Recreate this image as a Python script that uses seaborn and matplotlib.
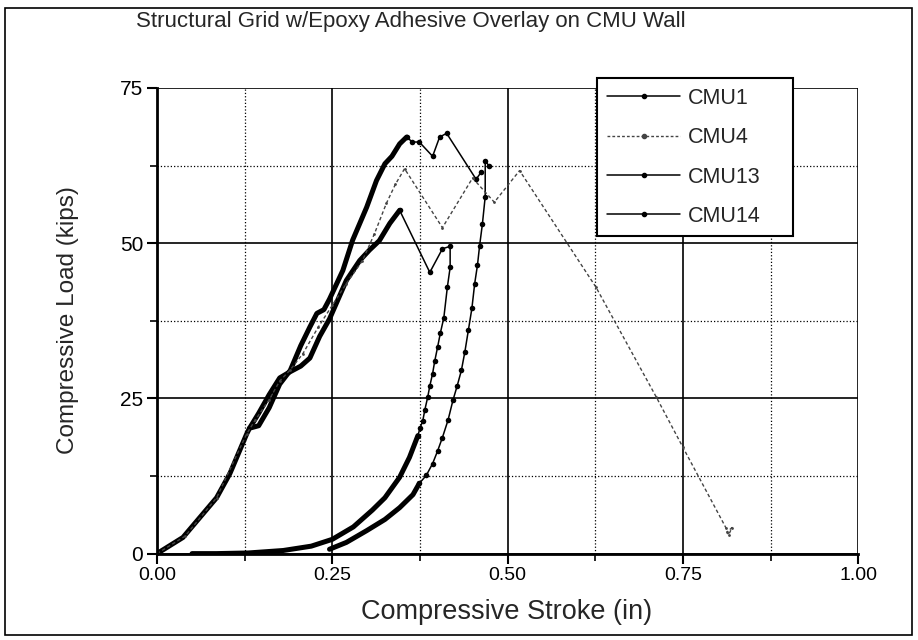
import matplotlib
matplotlib.use('Agg')
import matplotlib.pyplot as plt
import matplotlib.ticker as mticker
from matplotlib.lines import Line2D
from matplotlib.patches import Rectangle
import seaborn as sns
import pandas as pd

# CMU1 - loading branch (dense, drawn heavy) and post-peak branch
cmu1_load_x = [0.0, 0.037, 0.085, 0.104, 0.128, 0.132, 0.145, 0.160, 0.175, 0.190, 0.205, 0.218,
               0.228, 0.238, 0.246, 0.265, 0.279, 0.299, 0.313, 0.325, 0.335, 0.346, 0.356]
cmu1_load_y = [0.0, 2.6, 9.0, 12.9, 19.3, 20.2, 20.6, 23.5, 27.3, 29.5, 33.5, 36.5,
               38.7, 39.3, 41.0, 45.6, 50.5, 55.8, 60.1, 62.8, 64.0, 66.0, 67.1]
cmu1_post_x = [0.356, 0.364, 0.374, 0.393, 0.403, 0.413, 0.455, 0.462]
cmu1_post_y = [67.1, 66.3, 66.3, 64.0, 67.1, 67.7, 60.3, 61.4]

# CMU4 - dashed
cmu4_x = [0.0, 0.040, 0.085, 0.128, 0.140, 0.160, 0.175, 0.190, 0.208, 0.230, 0.250, 0.270,
          0.293, 0.310, 0.327, 0.340, 0.353, 0.407, 0.450, 0.481, 0.517, 0.626, 0.712,
          0.750, 0.811, 0.815, 0.820, 0.813]
cmu4_y = [0.0, 2.8, 9.0, 19.3, 21.5, 24.8, 27.8, 29.6, 32.2, 36.5, 40.0, 43.5,
          47.2, 51.5, 56.4, 59.5, 62.0, 52.5, 60.5, 56.6, 61.7, 42.9, 25.2,
          17.1, 4.2, 3.0, 4.2, 3.5]

# CMU13 - loading branch, post-peak, then return branch
cmu13_load_x = [0.132, 0.145, 0.160, 0.175, 0.190, 0.205, 0.218, 0.232, 0.246, 0.270, 0.289,
                0.303, 0.317, 0.332, 0.346]
cmu13_load_y = [20.2, 22.6, 25.6, 28.3, 29.3, 30.2, 31.5, 35.0, 37.8, 44.0, 47.2,
                48.9, 50.4, 53.2, 55.3]
cmu13_post_x = [0.346, 0.389, 0.407, 0.418, 0.418, 0.414, 0.409, 0.404, 0.400, 0.396, 0.393,
                0.389, 0.386, 0.382, 0.379, 0.375, 0.372]
cmu13_post_y = [55.3, 45.3, 49.1, 49.5, 46.1, 42.9, 38.0, 35.5, 33.2, 31.0, 29.0,
                27.0, 25.2, 23.2, 21.4, 20.2, 19.0]
cmu13_ret_x = [0.372, 0.360, 0.346, 0.325, 0.307, 0.280, 0.250, 0.220, 0.180, 0.130, 0.085, 0.050]
cmu13_ret_y = [19.0, 15.5, 12.3, 9.0, 7.0, 4.3, 2.3, 1.2, 0.5, 0.1, 0.0, 0.0]

# CMU14 - offset start
cmu14_base_x = [0.246, 0.270, 0.299, 0.325, 0.346, 0.365, 0.374]
cmu14_base_y = [0.7, 1.8, 3.7, 5.5, 7.4, 9.5, 11.3]
cmu14_up_x = [0.374, 0.384, 0.393, 0.400, 0.407, 0.415, 0.422, 0.428, 0.434, 0.439, 0.444,
              0.449, 0.453, 0.457, 0.460, 0.464, 0.468, 0.468, 0.473]
cmu14_up_y = [11.3, 12.6, 14.5, 16.5, 18.7, 21.5, 24.7, 27.0, 29.5, 32.5, 36.0,
              39.5, 43.5, 46.5, 49.6, 53.1, 57.5, 63.3, 62.5]

labels = ['CMU1', 'CMU4', 'CMU13', 'CMU14']
x_ticks = [0.0, 0.25, 0.50, 0.75, 1.00]
y_ticks = [0, 25, 50, 75]

sns.set_theme(style='white')
plt.rcParams['font.family'] = ['Liberation Sans', 'DejaVu Sans']

fig = plt.figure(figsize=(9.18, 6.4), dpi=100)
ax = fig.add_axes([0.171, 0.135, 0.764, 0.7275])

heavy = dict(color='black', linewidth=3.6, sort=False, estimator=None, ax=ax)
thin = dict(color='black', linewidth=1.1, marker='o', markersize=4, markeredgewidth=0,
            sort=False, estimator=None, ax=ax)

sns.lineplot(x=cmu1_load_x, y=cmu1_load_y, **heavy)
sns.lineplot(x=cmu1_post_x, y=cmu1_post_y, **thin)
sns.lineplot(x=cmu13_load_x, y=cmu13_load_y, **heavy)
sns.lineplot(x=cmu13_post_x, y=cmu13_post_y, **thin)
sns.lineplot(x=cmu13_ret_x, y=cmu13_ret_y, **heavy)
sns.lineplot(x=cmu14_base_x, y=cmu14_base_y, **heavy)
sns.lineplot(x=cmu14_up_x, y=cmu14_up_y, **thin)
sns.lineplot(x=cmu4_x, y=cmu4_y, color='#444444', linewidth=1.0, linestyle=(0, (2.5, 1.8)),
             marker='o', markersize=2, markeredgewidth=0, sort=False, estimator=None, ax=ax)

ax.set_xlim(0, 1.0)
ax.set_ylim(0, 75)
ax.set_xticks(x_ticks)
ax.set_yticks(y_ticks)
ax.xaxis.set_minor_locator(mticker.MultipleLocator(0.125))
ax.yaxis.set_minor_locator(mticker.MultipleLocator(12.5))
ax.xaxis.set_major_formatter(mticker.FormatStrFormatter('%.2f'))
ax.grid(which='major', color='black', linewidth=1.2, linestyle='-')
ax.grid(which='minor', color='black', linewidth=0.9, linestyle=':')
ax.set_axisbelow(True)
for side in ['top', 'right']:
    ax.spines[side].set_visible(False)
for side in ['left', 'bottom']:
    ax.spines[side].set_color('black')
    ax.spines[side].set_linewidth(2)
ax.tick_params(which='major', direction='out', length=7, width=1.5, colors='black',
               labelsize=14, pad=3, bottom=True, left=True)
ax.tick_params(axis='y', which='major', labelsize=15)
ax.tick_params(which='minor', direction='out', length=5, width=1.2, colors='black',
               bottom=True, left=True)

handles = [
    Line2D([], [], color='black', linewidth=1.1, marker='o', markersize=3),
    Line2D([], [], color='#444444', linewidth=1.0, linestyle=(0, (2, 1.5)), marker='o', markersize=3),
    Line2D([], [], color='black', linewidth=1.1, marker='o', markersize=3),
    Line2D([], [], color='black', linewidth=1.1, marker='o', markersize=3),
]
leg = ax.legend(handles, labels, loc='upper left', bbox_to_anchor=(0.628, 1.021, 0.279, 0.0),
                mode='expand', fontsize=15.5, frameon=True, fancybox=False, framealpha=1,
                edgecolor='black', borderpad=0.45, labelspacing=0.85, handlelength=3.4,
                handletextpad=0.35, numpoints=1, borderaxespad=0)
leg.get_frame().set_linewidth(1.5)

fig.text(0.447, 0.967, 'Structural Grid w/Epoxy Adhesive Overlay on CMU Wall',
         ha='center', va='center', fontsize=16)
fig.text(0.074, 0.5, 'Compressive Load (kips)', rotation=90, ha='center', va='center',
         fontsize=17.5)
fig.text(0.552, 0.044, 'Compressive Stroke (in)', ha='center', va='center', fontsize=19.5)

fig.patches.append(Rectangle((0.005, 0.008), 0.989, 0.98, transform=fig.transFigure,
                             fill=False, edgecolor='black', linewidth=1.2))

fig.savefig('out.png', dpi=100)
